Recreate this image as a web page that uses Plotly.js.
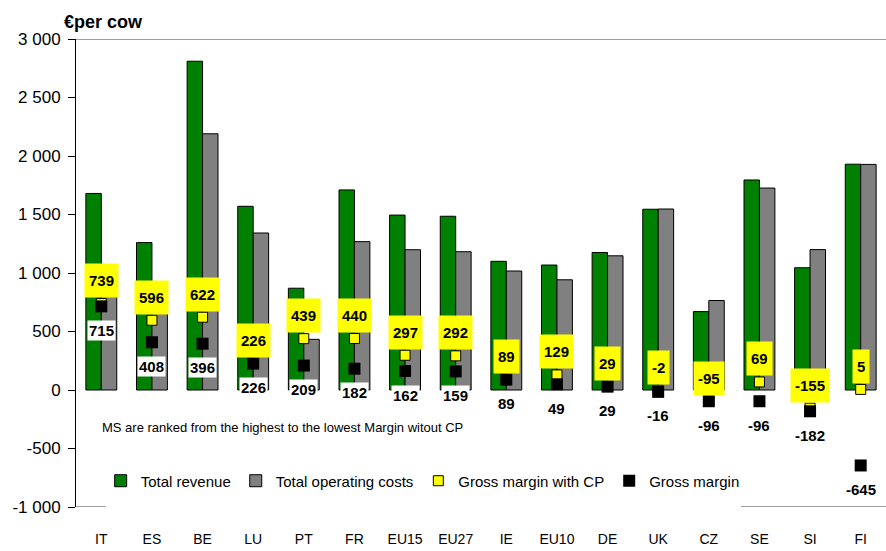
<!DOCTYPE html>
<html>
<head>
<meta charset="utf-8">
<script src="https://cdn.plot.ly/plotly-3.0.1.min.js"></script>
<style>html,body{margin:0;padding:0;background:#fff;}#chart{width:886px;height:551px;}</style>
</head>
<body>
<div id="chart"></div>
<script>
// ---- data ----
const categories = ['IT','ES','BE','LU','PT','FR','EU15','EU27','IE','EU10','DE','UK','CZ','SE','SI','FI'];
const totalRevenue = [1680,1260,2810,1570,870,1710,1495,1485,1100,1068,1175,1545,670,1795,1045,1930];
const totalCosts = [941,664,2190,1342,433,1268,1199,1182,1017,942,1147,1547,765,1726,1200,1928];
const marginWithCP = [739,596,622,226,439,440,297,292,89,129,29,-2,-95,69,-155,5];
const grossMargin = [715,408,396,226,209,182,162,159,89,49,29,-16,-96,-96,-182,-645];
const yTickVals = [-1000,-500,0,500,1000,1500,2000,2500,3000];
const yTickText = ['-1 000','-500','0','500','1 000','1 500','2 000','2 500','3 000'];
const yUnit = '€per cow';
const note = 'MS are ranked from the highest to the lowest Margin witout CP';

const FONT = 'Liberation Sans, Arial, sans-serif';
const yMin = -1000, yMax = 3000;

const traces = [
  {type:'bar', name:'Total revenue', x:categories, y:totalRevenue,
   marker:{color:'#008000', line:{color:'#000', width:1}}},
  {type:'bar', name:'Total operating costs', x:categories, y:totalCosts,
   marker:{color:'#808080', line:{color:'#000', width:1}}},
  {type:'scatter', mode:'markers', name:'Gross margin with CP', x:categories, y:marginWithCP,
   marker:{symbol:'square', size:10, color:'#FFFF00', line:{color:'#000', width:1}}},
  {type:'scatter', mode:'markers', name:'Gross margin', x:categories, y:grossMargin,
   marker:{symbol:'square', size:12, color:'#000', line:{color:'#000', width:0}}}
];

const annotations = [];
categories.forEach((c,i)=>{
  annotations.push({x:c, y:marginWithCP[i], xref:'x', yref:'y', text:'<b>'+marginWithCP[i]+'</b>',
    showarrow:false, yshift:23, bgcolor:'#FFFF00', borderpad:4, height:25,
    font:{family:FONT, size:15, color:'#000'}});
});
categories.forEach((c,i)=>{
  annotations.push({x:c, y:grossMargin[i], xref:'x', yref:'y', text:'<b>'+grossMargin[i]+'</b>',
    showarrow:false, yshift:-24, bgcolor:'#FFFFFF', borderpad:1,
    font:{family:FONT, size:15, color:'#000'}});
});
annotations.push({xref:'paper', yref:'paper', x:-0.0173, y:1.036, xanchor:'left', yanchor:'middle',
  text:'<b>'+yUnit+'</b>', showarrow:false, font:{family:FONT, size:18, color:'#000'}});
annotations.push({xref:'paper', yref:'paper', x:0.0296, y:0.169, xanchor:'left', yanchor:'middle',
  text:note, showarrow:false, font:{family:FONT, size:13, color:'#000'}});

const boundaries = categories.slice(1).map((_,i)=>i+0.5);

const layout = {
  width:886, height:551,
  margin:{l:76, r:0, t:39, b:44},
  paper_bgcolor:'#fff', plot_bgcolor:'#fff',
  barmode:'group', bargap:0.39, bargroupgap:0,
  font:{family:FONT, color:'#000'},
  showlegend:true,
  legend:{orientation:'h', x:0.428, xanchor:'center', y:0.0556, yanchor:'middle',
    font:{family:FONT, size:15, color:'#000'}, bgcolor:'rgba(0,0,0,0)', traceorder:'normal'},
  xaxis:{type:'category', range:[-0.5, categories.length-0.5], showline:false, ticks:'',
    showgrid:false, zeroline:false, tickfont:{family:FONT, size:14, color:'#000'},
    ticklabelstandoff:22, fixedrange:true},
  xaxis2:{overlaying:'x', anchor:'free', position:(0-yMin)/(yMax-yMin),
    range:[-0.5, categories.length-0.5], tickmode:'array', tickvals:boundaries,
    showticklabels:false, ticks:'outside', ticklen:5, tickcolor:'#000',
    showline:true, linecolor:'#000', linewidth:1, showgrid:false, zeroline:false},
  yaxis:{range:[yMin, yMax], tickmode:'array', tickvals:yTickVals, ticktext:yTickText,
    showline:true, linecolor:'#000', linewidth:1, ticks:'outside', ticklen:7, tickcolor:'#000',
    showgrid:false, zeroline:false, tickfont:{family:FONT, size:17, color:'#000'},
    ticklabelstandoff:4},
  shapes:[
    {type:'line', xref:'paper', yref:'y', x0:0, x1:1, y0:yMax, y1:yMax, line:{color:'#808080', width:1.5}},
    {type:'line', xref:'paper', yref:'y', x0:0, x1:0.037, y0:yMin, y1:yMin, line:{color:'#808080', width:1.5}},
    {type:'line', xref:'paper', yref:'y', x0:0.821, x1:1, y0:yMin, y1:yMin, line:{color:'#808080', width:1.5}}
  ],
  annotations:annotations
};

Plotly.newPlot('chart', traces, layout, {displayModeBar:false, staticPlot:true});
</script>
</body>
</html>
